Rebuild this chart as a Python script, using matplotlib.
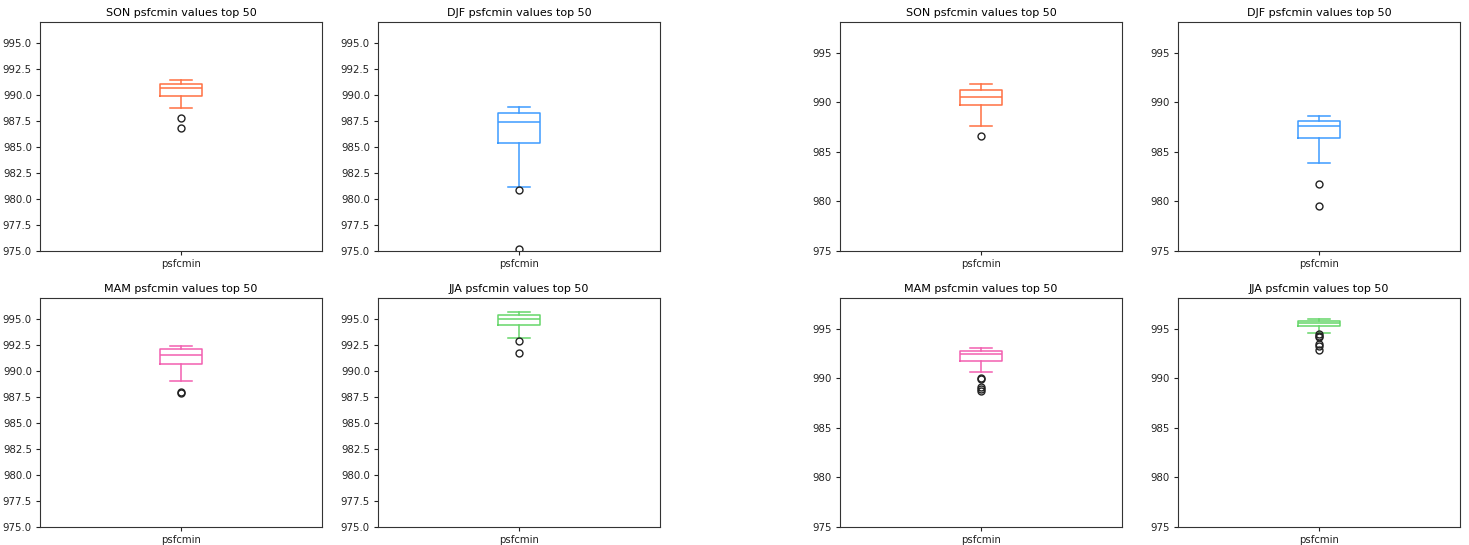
import matplotlib.pyplot as plt

# season order and colours for the 2x2 panels
seasons = ['SON', 'DJF', 'MAM', 'JJA']
colors = {'SON': '#ff7043', 'DJF': '#3d9bff', 'MAM': '#f25fb0', 'JJA': '#66d66a'}

# box statistics of psfcmin (top 50) per season: whislo, q1, med, q3, whishi
stats_a = {
    'SON': [988.75, 989.97, 990.71, 991.06, 991.51],
    'DJF': [981.19, 985.38, 987.44, 988.27, 988.85],
    'MAM': [989.04, 990.74, 991.60, 992.15, 992.47],
    'JJA': [993.17, 994.46, 995.06, 995.38, 995.74],
}
fliers_a = {
    'SON': [987.82, 986.89],
    'DJF': [980.87, 975.15],
    'MAM': [987.98, 987.93],
    'JJA': [992.88, 991.79],
}

stats_b = {
    'SON': [987.58, 989.73, 990.57, 991.24, 991.81],
    'DJF': [983.86, 986.41, 987.58, 988.15, 988.59],
    'MAM': [990.64, 991.74, 992.48, 992.79, 993.09],
    'JJA': [994.53, 995.27, 995.57, 995.77, 995.94],
}
fliers_b = {
    'SON': [986.64],
    'DJF': [981.75, 979.50],
    'MAM': [990.00, 989.95, 989.10, 988.95, 988.75],
    'JJA': [994.45, 994.30, 994.20, 993.50, 993.30, 992.85],
}

ylim_a = (975, 997.05)
ticks_a = [975.0, 977.5, 980.0, 982.5, 985.0, 987.5, 990.0, 992.5, 995.0]
ylim_b = (975, 998.1)
ticks_b = [975, 980, 985, 990, 995]

fig = plt.figure(figsize=(14.69, 5.45), dpi=100)
W, H = 1469, 545


def panel(left, top, season, stats, fliers, ylim, ticks, fmt):
    ax = fig.add_axes([left / W, 1 - (top + 229) / H, 282 / W, 229 / H])
    lo, q1, med, q3, hi = stats[season]
    box = dict(whislo=lo, q1=q1, med=med, q3=q3, whishi=hi,
               fliers=fliers[season], label='psfcmin')
    c = colors[season]
    ax.bxp([box], positions=[1], widths=0.15,
           boxprops=dict(color=c, lw=1.1),
           whiskerprops=dict(color=c, lw=1.1),
           capprops=dict(color=c, lw=1.1),
           medianprops=dict(color=c, lw=1.1),
           flierprops=dict(marker='o', markerfacecolor='none',
                           markeredgecolor='#222222', markersize=5))
    ax.set_xlim(0.5, 1.5)
    ax.set_ylim(*ylim)
    ax.set_yticks(ticks)
    ax.set_yticklabels([fmt.format(t) for t in ticks])
    ax.tick_params(labelsize=7.3, colors='#222222', length=3, pad=2.8)
    ax.set_title(season + ' psfcmin values top 50', fontsize=8, pad=4)
    for s in ax.spines.values():
        s.set_color('#333333')
    return ax


lefts_a = [40, 378]
lefts_b = [840, 1178]
tops = [22, 298]

for i, season in enumerate(seasons):
    r, col = divmod(i, 2)
    panel(lefts_a[col], tops[r], season, stats_a, fliers_a, ylim_a, ticks_a, '{:.1f}')
    panel(lefts_b[col], tops[r], season, stats_b, fliers_b, ylim_b, ticks_b, '{:.0f}')

fig.savefig('out.png', dpi=100)
